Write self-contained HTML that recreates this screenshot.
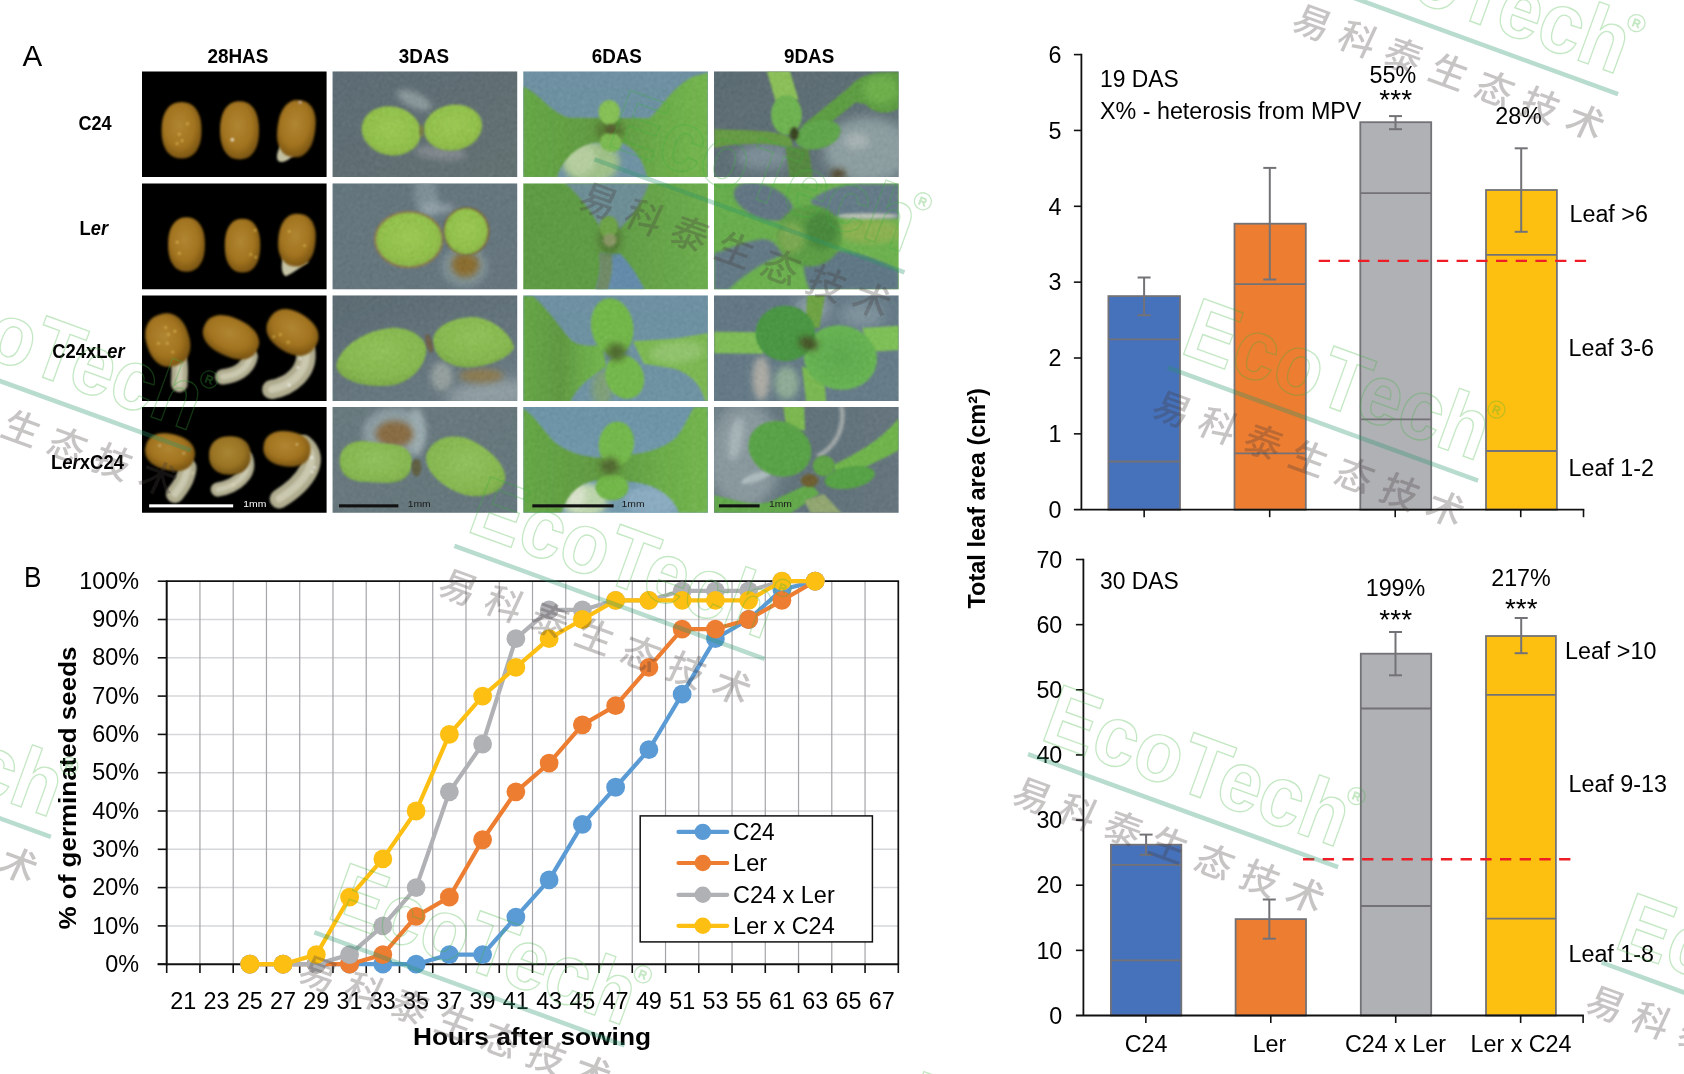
<!DOCTYPE html><html lang="en"><head><meta charset="utf-8"><title>Figure</title><style>html,body{margin:0;padding:0;background:#fff;overflow:hidden}body{width:1684px;height:1074px}</style></head><body><svg width="1684" height="1074" viewBox="0 0 1684 1074" style="display:block">
<defs>

<filter id="grain" color-interpolation-filters="sRGB" filterUnits="userSpaceOnUse" x="330" y="70" width="572" height="445"><feTurbulence type="fractalNoise" baseFrequency="0.6" numOctaves="3" seed="7"/><feColorMatrix type="matrix" values="0 1.5 0 0 -0.25  0 1.5 0 0 -0.25  0 1.5 0 0 -0.25  0 0 0 0 1"/><feGaussianBlur stdDeviation="0.8"/></filter>
<filter id="b8" filterUnits="userSpaceOnUse" x="-200" y="-200" width="2100" height="1400"><feGaussianBlur stdDeviation="10"/></filter>
<filter id="b15" filterUnits="userSpaceOnUse" x="-200" y="-200" width="2100" height="1400"><feGaussianBlur stdDeviation="14"/></filter>
<filter id="b30" filterUnits="userSpaceOnUse" x="-300" y="-300" width="2300" height="1600"><feGaussianBlur stdDeviation="28"/></filter>
<filter id="b60" filterUnits="userSpaceOnUse" x="-400" y="-400" width="2500" height="1800"><feGaussianBlur stdDeviation="55"/></filter>
<radialGradient id="seedG" cx="0.45" cy="0.42" r="0.62"><stop offset="0" stop-color="#b08632"/><stop offset="0.6" stop-color="#a27420"/><stop offset="1" stop-color="#74500f"/></radialGradient>
<radialGradient id="seedG2" cx="0.45" cy="0.42" r="0.62"><stop offset="0" stop-color="#a88632"/><stop offset="0.6" stop-color="#9a7424"/><stop offset="1" stop-color="#6d4e12"/></radialGradient>
<radialGradient id="cotG" cx="0.5" cy="0.45" r="0.6"><stop offset="0" stop-color="#a0d64c"/><stop offset="0.7" stop-color="#95cb42"/><stop offset="1" stop-color="#86b83c"/></radialGradient>
<radialGradient id="cotG3" cx="0.5" cy="0.4" r="0.65"><stop offset="0" stop-color="#93cd52"/><stop offset="0.7" stop-color="#87c146"/><stop offset="1" stop-color="#77ab3e"/></radialGradient>
<radialGradient id="cotG4" cx="0.5" cy="0.45" r="0.65"><stop offset="0" stop-color="#94cc58"/><stop offset="0.7" stop-color="#87c147"/><stop offset="1" stop-color="#78ad40"/></radialGradient>
<linearGradient id="bgS1" x1="0" y1="0" x2="1" y2="1"><stop offset="0" stop-color="#566873"/><stop offset="1" stop-color="#5f6f70"/></linearGradient>
<linearGradient id="bgS2" x1="0" y1="0" x2="1" y2="1"><stop offset="0" stop-color="#5f747d"/><stop offset="1" stop-color="#62747e"/></linearGradient>
<linearGradient id="bgS3" x1="0" y1="0" x2="0.6" y2="1"><stop offset="0" stop-color="#54666f"/><stop offset="1" stop-color="#677a84"/></linearGradient>
<linearGradient id="bgS4" x1="0" y1="0" x2="1" y2="1"><stop offset="0" stop-color="#65797f"/><stop offset="1" stop-color="#60747c"/></linearGradient>
<linearGradient id="bgB1" x1="0" y1="0" x2="0" y2="1"><stop offset="0" stop-color="#6a93a8"/><stop offset="1" stop-color="#6d97ab"/></linearGradient>
<linearGradient id="bgB2" x1="0" y1="0" x2="0" y2="1"><stop offset="0" stop-color="#6998ae"/><stop offset="1" stop-color="#73a0b6"/></linearGradient>
<linearGradient id="bgD1" x1="0" y1="0" x2="1" y2="1"><stop offset="0" stop-color="#54676f"/><stop offset="1" stop-color="#5e727a"/></linearGradient>
<linearGradient id="bgD2" x1="0" y1="0" x2="1" y2="1"><stop offset="0" stop-color="#5d7684"/><stop offset="1" stop-color="#627c8a"/></linearGradient>
<linearGradient id="bgD3" x1="0" y1="0" x2="1" y2="0"><stop offset="0" stop-color="#6a7e88"/><stop offset="0.5" stop-color="#5c707a"/><stop offset="1" stop-color="#62747e"/></linearGradient>
<linearGradient id="lfA" x1="0" y1="0" x2="1" y2="0"><stop offset="0" stop-color="#62ae3c"/><stop offset="0.45" stop-color="#5a9c36"/><stop offset="0.75" stop-color="#68b440"/><stop offset="1" stop-color="#72bf46"/></linearGradient>
<linearGradient id="lfB" x1="0" y1="0" x2="1" y2="0"><stop offset="0" stop-color="#58a03a"/><stop offset="0.45" stop-color="#5aa03a"/><stop offset="1" stop-color="#6ab645"/></linearGradient>
<linearGradient id="lfC" x1="0" y1="0" x2="1" y2="1"><stop offset="0" stop-color="#62b443"/><stop offset="1" stop-color="#6cbc48"/></linearGradient>
<radialGradient id="lfD" cx="0.5" cy="0.5" r="0.6"><stop offset="0" stop-color="#58b044"/><stop offset="1" stop-color="#66c04e"/></radialGradient>

<clipPath id="c00"><rect x="142.0" y="71.4" width="184.6" height="105.6"/></clipPath><clipPath id="c01"><rect x="332.6" y="71.4" width="184.6" height="105.6"/></clipPath><clipPath id="c02"><rect x="523.3" y="71.4" width="184.6" height="105.6"/></clipPath><clipPath id="c03"><rect x="714.0" y="71.4" width="184.6" height="105.6"/></clipPath><clipPath id="c10"><rect x="142.0" y="183.6" width="184.6" height="105.6"/></clipPath><clipPath id="c11"><rect x="332.6" y="183.6" width="184.6" height="105.6"/></clipPath><clipPath id="c12"><rect x="523.3" y="183.6" width="184.6" height="105.6"/></clipPath><clipPath id="c13"><rect x="714.0" y="183.6" width="184.6" height="105.6"/></clipPath><clipPath id="c20"><rect x="142.0" y="295.5" width="184.6" height="105.6"/></clipPath><clipPath id="c21"><rect x="332.6" y="295.5" width="184.6" height="105.6"/></clipPath><clipPath id="c22"><rect x="523.3" y="295.5" width="184.6" height="105.6"/></clipPath><clipPath id="c23"><rect x="714.0" y="295.5" width="184.6" height="105.6"/></clipPath><clipPath id="c30"><rect x="142.0" y="407.1" width="184.6" height="105.6"/></clipPath><clipPath id="c31"><rect x="332.6" y="407.1" width="184.6" height="105.6"/></clipPath><clipPath id="c32"><rect x="523.3" y="407.1" width="184.6" height="105.6"/></clipPath><clipPath id="c33"><rect x="714.0" y="407.1" width="184.6" height="105.6"/></clipPath><clipPath id="gcl"><rect x="332.6" y="71.4" width="184.6" height="105.6"/><rect x="523.3" y="71.4" width="184.6" height="105.6"/><rect x="714.0" y="71.4" width="184.6" height="105.6"/><rect x="332.6" y="183.6" width="184.6" height="105.6"/><rect x="523.3" y="183.6" width="184.6" height="105.6"/><rect x="714.0" y="183.6" width="184.6" height="105.6"/><rect x="332.6" y="295.5" width="184.6" height="105.6"/><rect x="523.3" y="295.5" width="184.6" height="105.6"/><rect x="714.0" y="295.5" width="184.6" height="105.6"/><rect x="332.6" y="407.1" width="184.6" height="105.6"/><rect x="523.3" y="407.1" width="184.6" height="105.6"/><rect x="714.0" y="407.1" width="184.6" height="105.6"/></clipPath>
</defs>
<rect width="1684" height="1074" fill="#fff"/>
<text x="22.60" y="65.60" font-family='"Liberation Sans", sans-serif' font-size="30" textLength="19.70" lengthAdjust="spacingAndGlyphs">A</text><text x="207.40" y="62.90" font-family='"Liberation Sans", sans-serif' font-size="20" font-weight="bold" textLength="61.00" lengthAdjust="spacingAndGlyphs">28HAS</text><text x="398.80" y="62.90" font-family='"Liberation Sans", sans-serif' font-size="20" font-weight="bold" textLength="50.30" lengthAdjust="spacingAndGlyphs">3DAS</text><text x="591.70" y="62.90" font-family='"Liberation Sans", sans-serif' font-size="20" font-weight="bold" textLength="50.20" lengthAdjust="spacingAndGlyphs">6DAS</text><text x="784.00" y="62.90" font-family='"Liberation Sans", sans-serif' font-size="20" font-weight="bold" textLength="50.20" lengthAdjust="spacingAndGlyphs">9DAS</text><text x="78.40" y="129.50" font-family='"Liberation Sans", sans-serif' font-size="20" font-weight="bold" textLength="33.20" lengthAdjust="spacingAndGlyphs">C24</text><text x="79.60" y="234.70" font-family='"Liberation Sans", sans-serif' font-size="20" font-weight="bold" textLength="28.40" lengthAdjust="spacingAndGlyphs">L<tspan font-style="italic">er</tspan></text><text x="52.30" y="357.90" font-family='"Liberation Sans", sans-serif' font-size="20" font-weight="bold" textLength="72.40" lengthAdjust="spacingAndGlyphs">C24xL<tspan font-style="italic">er</tspan></text><text x="51.00" y="468.80" font-family='"Liberation Sans", sans-serif' font-size="20" font-weight="bold" textLength="73.00" lengthAdjust="spacingAndGlyphs">L<tspan font-style="italic">er</tspan>xC24</text>
<g clip-path="url(#c00)"><g transform="translate(142,71) scale(0.10985)"><rect x="-20" y="-20" width="1740" height="1020" fill="#000"/><path d="M542,540 L540,591 L534,633 L525,669 L511,702 L495,730 L475,754 L452,772 L426,786 L396,794 L360,797 L324,794 L294,786 L268,772 L245,754 L225,730 L209,702 L195,669 L186,633 L180,591 L178,540 L180,489 L186,447 L195,411 L209,378 L225,350 L245,326 L268,308 L294,294 L324,286 L360,283 L396,286 L426,294 L452,308 L475,326 L495,350 L511,378 L525,411 L534,447 L540,489Z" fill="url(#seedG)" filter="url(#b8)"/><path d="M1066,540 L1064,593 L1058,635 L1049,673 L1036,707 L1020,736 L1000,760 L978,780 L952,794 L923,802 L888,805 L853,802 L824,794 L798,780 L776,760 L756,736 L740,707 L727,673 L718,635 L712,593 L710,540 L712,487 L718,445 L727,407 L740,373 L756,344 L776,320 L798,300 L824,286 L853,278 L888,275 L923,278 L952,286 L978,300 L1000,320 L1020,344 L1036,373 L1049,407 L1058,445 L1064,487Z" fill="url(#seedG)" filter="url(#b8)"/><path d="M1300,620 C1240,700 1210,780 1240,820 C1290,850 1360,800 1420,720 Z" fill="#c2c0a0" filter="url(#b8)"/><path d="M1577,525 L1575,577 L1570,619 L1561,657 L1548,690 L1532,719 L1513,743 L1492,762 L1467,776 L1439,784 L1405,787 L1371,784 L1343,776 L1318,762 L1297,743 L1278,719 L1262,690 L1249,657 L1240,619 L1235,577 L1233,525 L1235,473 L1240,431 L1249,393 L1262,360 L1278,331 L1297,307 L1318,288 L1343,274 L1371,266 L1405,263 L1439,266 L1467,274 L1492,288 L1513,307 L1532,331 L1548,360 L1561,393 L1570,431 L1575,473Z" fill="url(#seedG)" transform="rotate(8 1405 525)" filter="url(#b8)"/><circle cx="415" cy="480" r="11" fill="#e8c860" opacity="0.8" filter="url(#b8)"/><circle cx="340" cy="575" r="11" fill="#e8c860" opacity="0.8" filter="url(#b8)"/><circle cx="365" cy="635" r="11" fill="#e8c860" opacity="0.8" filter="url(#b8)"/><circle cx="320" cy="660" r="11" fill="#e8c860" opacity="0.8" filter="url(#b8)"/><circle cx="822" cy="625" r="16" fill="#fff" opacity="0.8" filter="url(#b8)"/><circle cx="1440" cy="285" r="12" fill="#d8d0f0" opacity="0.8" filter="url(#b8)"/></g></g><g clip-path="url(#c01)"><g transform="translate(333,71) scale(0.10985)"><rect x="-20" y="-20" width="1740" height="1020" fill="url(#bgS1)"/><ellipse cx="740" cy="265" rx="170" ry="70" fill="#b8c8c8" transform="rotate(25 740 265)" filter="url(#b30)" opacity="0.55"/><ellipse cx="980" cy="745" rx="240" ry="60" fill="#a8a8b0" transform="rotate(5 980 745)" filter="url(#b30)" opacity="0.5"/><ellipse cx="530" cy="545" rx="272" ry="222" fill="url(#cotG)" transform="rotate(12 530 545)" filter="url(#b8)"/><ellipse cx="1092" cy="515" rx="268" ry="208" fill="url(#cotG)" transform="rotate(-10 1092 515)" filter="url(#b8)"/><ellipse cx="805" cy="545" rx="18" ry="60" fill="#7a7a30" filter="url(#b8)"/></g></g><g clip-path="url(#c02)"><g transform="translate(523,71) scale(0.10985)"><rect x="-20" y="-20" width="1740" height="1020" fill="url(#bgB1)"/><ellipse cx="620" cy="830" rx="260" ry="190" fill="#a6cc8c" filter="url(#b30)"/><ellipse cx="520" cy="800" rx="140" ry="150" fill="#c0dca6" filter="url(#b30)"/><path d="M0,140 C150,200 250,380 420,425 L1150,430 C1250,350 1350,150 1550,50 L1684,15 L1684,974 L1130,974 C1100,800 1000,690 900,655 L650,650 C500,680 350,800 310,974 L0,974 Z" fill="url(#lfA)" filter="url(#b8)"/><ellipse cx="790" cy="540" rx="130" ry="100" fill="#4f7a28" filter="url(#b30)"/><ellipse cx="785" cy="375" rx="98" ry="112" fill="#86cb4e" filter="url(#b8)"/><ellipse cx="800" cy="650" rx="100" ry="88" fill="#7cc448" transform="rotate(15 800 650)" filter="url(#b8)"/><ellipse cx="800" cy="530" rx="50" ry="40" fill="#4f5a22" filter="url(#b15)"/></g></g><g clip-path="url(#c03)"><g transform="translate(714,71) scale(0.10985)"><rect x="-20" y="-20" width="1740" height="1020" fill="url(#bgD1)"/><ellipse cx="1400" cy="720" rx="400" ry="300" fill="#90a4a7" filter="url(#b60)"/><ellipse cx="1300" cy="640" rx="110" ry="70" fill="#aebcbc" filter="url(#b30)"/><ellipse cx="450" cy="780" rx="260" ry="120" fill="#7d929c" filter="url(#b60)"/><ellipse cx="1130" cy="940" rx="70" ry="45" fill="#4a3a18" filter="url(#b30)"/><path d="M480,0 L690,0 L770,260 L560,270 Z" fill="#8ecb52" filter="url(#b8)"/><path d="M800,500 L1240,140 C1320,50 1420,10 1684,10 L1684,340 C1600,400 1450,390 1380,300 L1290,285 L1000,520 Z" fill="#58a238" filter="url(#b8)"/><ellipse cx="1520" cy="170" rx="160" ry="130" fill="#6ab843" filter="url(#b30)"/><path d="M0,530 C250,540 500,530 700,600 L720,700 C500,650 250,650 0,700 Z" fill="#629f38" filter="url(#b8)"/><path d="M650,690 L860,700 L900,974 L690,974 Z" fill="#4f8a34" filter="url(#b8)"/><ellipse cx="660" cy="400" rx="140" ry="182" fill="#6cbc48" filter="url(#b8)"/><ellipse cx="945" cy="580" rx="212" ry="128" fill="#5aac42" transform="rotate(-15 945 580)" filter="url(#b8)"/><ellipse cx="730" cy="570" rx="40" ry="60" fill="#2a3810" filter="url(#b15)"/></g></g><g clip-path="url(#c10)"><g transform="translate(142,183) scale(0.10985)"><rect x="-20" y="-20" width="1740" height="1020" fill="#000"/><path d="M573,560 L571,609 L566,649 L557,685 L545,716 L529,743 L511,766 L490,784 L466,797 L438,805 L405,808 L372,805 L344,797 L320,784 L299,766 L281,743 L265,716 L253,685 L244,649 L239,609 L237,560 L239,511 L244,471 L253,435 L265,404 L281,377 L299,354 L320,336 L344,323 L372,315 L405,312 L438,315 L466,323 L490,336 L511,354 L529,377 L545,404 L557,435 L566,471 L571,511Z" fill="url(#seedG)" filter="url(#b8)"/><path d="M1077,570 L1075,619 L1070,658 L1062,693 L1050,724 L1035,751 L1017,774 L997,792 L973,805 L947,812 L915,815 L883,812 L857,805 L833,792 L813,774 L795,751 L780,724 L768,693 L760,658 L755,619 L753,570 L755,521 L760,482 L768,447 L780,416 L795,389 L813,366 L833,348 L857,335 L883,328 L915,325 L947,328 L973,335 L997,348 L1017,366 L1035,389 L1050,416 L1062,447 L1070,482 L1075,521Z" fill="url(#seedG)" filter="url(#b8)"/><path d="M1290,640 C1260,760 1270,830 1310,850 C1380,820 1450,760 1520,720 Z" fill="#c6c4a6" filter="url(#b8)"/><path d="M1580,520 L1578,568 L1573,606 L1564,641 L1551,671 L1536,698 L1517,720 L1496,737 L1471,750 L1444,757 L1410,760 L1376,757 L1349,750 L1324,737 L1303,720 L1284,698 L1269,671 L1256,641 L1247,606 L1242,568 L1240,520 L1242,472 L1247,434 L1256,399 L1269,369 L1284,342 L1303,320 L1324,303 L1349,290 L1376,283 L1410,280 L1444,283 L1471,290 L1496,303 L1517,320 L1536,342 L1551,369 L1564,399 L1573,434 L1578,472Z" fill="url(#seedG)" transform="rotate(5 1410 520)" filter="url(#b8)"/><circle cx="320" cy="540" r="11" fill="#e8c860" opacity="0.8" filter="url(#b8)"/><circle cx="340" cy="640" r="11" fill="#e8c860" opacity="0.8" filter="url(#b8)"/><circle cx="1030" cy="430" r="11" fill="#e8c860" opacity="0.8" filter="url(#b8)"/><circle cx="990" cy="650" r="11" fill="#e8c860" opacity="0.8" filter="url(#b8)"/><circle cx="1035" cy="675" r="11" fill="#e8c860" opacity="0.8" filter="url(#b8)"/><circle cx="1340" cy="440" r="11" fill="#e8c860" opacity="0.8" filter="url(#b8)"/><circle cx="1480" cy="570" r="11" fill="#e8c860" opacity="0.8" filter="url(#b8)"/></g></g><g clip-path="url(#c11)"><g transform="translate(333,183) scale(0.10985)"><rect x="-20" y="-20" width="1740" height="1020" fill="url(#bgS2)"/><ellipse cx="850" cy="130" rx="110" ry="200" fill="#8aa0a6" transform="rotate(-10 850 130)" filter="url(#b30)" opacity="0.7"/><ellipse cx="950" cy="230" rx="160" ry="50" fill="#a8b8c0" filter="url(#b30)" opacity="0.6"/><ellipse cx="1200" cy="760" rx="210" ry="190" fill="#7d9298" filter="url(#b30)"/><ellipse cx="1205" cy="745" rx="125" ry="110" fill="#8c6a22" filter="url(#b30)"/><ellipse cx="690" cy="515" rx="318" ry="262" fill="#8a7a48" filter="url(#b8)"/><ellipse cx="690" cy="515" rx="298" ry="244" fill="url(#cotG)" filter="url(#b8)"/><ellipse cx="1215" cy="440" rx="212" ry="222" fill="#7a6a38" filter="url(#b8)"/><ellipse cx="1212" cy="440" rx="196" ry="208" fill="url(#cotG)" filter="url(#b8)"/></g></g><g clip-path="url(#c12)"><g transform="translate(523,183) scale(0.10985)"><rect x="-20" y="-20" width="1740" height="1020" fill="url(#lfB)"/><path d="M380,0 L1150,0 C1080,200 950,350 880,420 L700,400 C620,250 480,80 380,0 Z" fill="#6a9199" filter="url(#b8)"/><path d="M700,640 L880,640 C950,700 1050,850 1110,974 L660,974 C700,850 720,750 700,640 Z" fill="#5f8eb2" filter="url(#b8)"/><path d="M690,640 L800,640 C830,760 800,880 770,974 L660,974 C700,850 710,750 690,640 Z" fill="#6d8c62" filter="url(#b8)"/><ellipse cx="790" cy="510" rx="110" ry="140" fill="#4c7a2c" filter="url(#b30)"/><ellipse cx="780" cy="400" rx="85" ry="100" fill="#6aa83c" filter="url(#b8)"/><ellipse cx="790" cy="520" rx="60" ry="60" fill="#8a9a60" filter="url(#b15)"/></g></g><g clip-path="url(#c13)"><g transform="translate(714,183) scale(0.10985)"><rect x="-20" y="-20" width="1740" height="1020" fill="url(#lfC)"/><ellipse cx="1420" cy="440" rx="300" ry="110" fill="#8eba48" filter="url(#b30)"/><ellipse cx="450" cy="170" rx="285" ry="150" fill="#5c7484" transform="rotate(22 450 170)" filter="url(#b15)"/><path d="M880,160 C1000,60 1150,20 1300,10 L1684,10 L1684,320 L1100,310 C1000,290 900,240 880,160 Z" fill="#607a8a" filter="url(#b15)"/><ellipse cx="1400" cy="300" rx="280" ry="25" fill="#c8d0c0" filter="url(#b15)"/><path d="M0,640 C100,620 250,530 450,510 C560,520 600,600 640,650 C500,700 300,800 130,974 L0,974 Z" fill="#5d7886" filter="url(#b15)"/><path d="M820,700 C900,650 1000,620 1150,620 C1350,640 1550,720 1684,800 L1684,974 L870,974 C830,880 810,780 820,700 Z" fill="#5a7686" filter="url(#b15)"/><ellipse cx="870" cy="480" rx="295" ry="280" fill="#56a23a" filter="url(#b15)"/><ellipse cx="980" cy="430" rx="150" ry="170" fill="#3f8a30" filter="url(#b30)"/><ellipse cx="700" cy="500" rx="120" ry="140" fill="#7ab048" filter="url(#b30)"/></g></g><g clip-path="url(#c20)"><g transform="translate(142,295) scale(0.10985)"><rect x="-20" y="-20" width="1740" height="1020" fill="#000"/><path d="M335,590 C355,700 335,770 340,810" fill="none" stroke="#aeab8e" stroke-width="150" stroke-linecap="round" stroke-linejoin="round" filter="url(#b8)"/><path d="M335,590 C355,700 335,770 340,810" fill="none" stroke="#cbc9b0" stroke-width="60.0" stroke-linecap="round" stroke-linejoin="round" filter="url(#b15)"/><path d="M430,410 L428,459 L422,498 L411,533 L397,564 L379,591 L358,614 L333,632 L305,645 L274,652 L235,655 L196,652 L165,645 L137,632 L112,614 L91,591 L73,564 L59,533 L48,498 L42,459 L40,410 L42,361 L48,322 L59,287 L73,256 L91,229 L112,206 L137,188 L165,175 L196,168 L235,165 L274,168 L305,175 L333,188 L358,206 L379,229 L397,256 L411,287 L422,322 L428,361Z" fill="url(#seedG)" transform="rotate(-18 235 410)" filter="url(#b8)"/><path d="M985,560 C960,680 850,730 735,745" fill="none" stroke="#aeab8e" stroke-width="140" stroke-linecap="round" stroke-linejoin="round" filter="url(#b8)"/><path d="M985,560 C960,680 850,730 735,745" fill="none" stroke="#cbc9b0" stroke-width="56.0" stroke-linecap="round" stroke-linejoin="round" filter="url(#b15)"/><path d="M1075,385 L1072,420 L1064,448 L1050,473 L1030,495 L1006,514 L977,531 L943,543 L905,553 L863,558 L810,560 L757,558 L715,553 L677,543 L643,531 L614,514 L590,495 L570,473 L556,448 L548,420 L545,385 L548,350 L556,322 L570,297 L590,275 L614,256 L643,239 L677,227 L715,217 L757,212 L810,210 L863,212 L905,217 L943,227 L977,239 L1006,256 L1030,275 L1050,297 L1064,322 L1072,350Z" fill="url(#seedG)" transform="rotate(25 810 385)" filter="url(#b8)"/><path d="M1490,500 C1520,700 1350,830 1180,860" fill="none" stroke="#aeab8e" stroke-width="175" stroke-linecap="round" stroke-linejoin="round" filter="url(#b8)"/><path d="M1490,500 C1520,700 1350,830 1180,860" fill="none" stroke="#cbc9b0" stroke-width="70.0" stroke-linecap="round" stroke-linejoin="round" filter="url(#b15)"/><path d="M1615,340 L1612,377 L1605,407 L1592,433 L1574,457 L1551,477 L1524,494 L1493,507 L1458,517 L1419,523 L1370,525 L1321,523 L1282,517 L1247,507 L1216,494 L1189,477 L1166,457 L1148,433 L1135,407 L1128,377 L1125,340 L1128,303 L1135,273 L1148,247 L1166,223 L1189,203 L1216,186 L1247,173 L1282,163 L1321,157 L1370,155 L1419,157 L1458,163 L1493,173 L1524,186 L1551,203 L1574,223 L1592,247 L1605,273 L1612,303Z" fill="url(#seedG)" transform="rotate(32 1370 340)" filter="url(#b8)"/><circle cx="215" cy="295" r="11" fill="#e8c860" opacity="0.8" filter="url(#b8)"/><circle cx="240" cy="360" r="11" fill="#e8c860" opacity="0.8" filter="url(#b8)"/><circle cx="150" cy="440" r="11" fill="#e8c860" opacity="0.8" filter="url(#b8)"/><circle cx="230" cy="440" r="11" fill="#e8c860" opacity="0.8" filter="url(#b8)"/><circle cx="280" cy="520" r="11" fill="#e8c860" opacity="0.8" filter="url(#b8)"/><circle cx="300" cy="330" r="11" fill="#e8c860" opacity="0.8" filter="url(#b8)"/><circle cx="1200" cy="380" r="11" fill="#e8c860" opacity="0.8" filter="url(#b8)"/><circle cx="1260" cy="360" r="11" fill="#e8c860" opacity="0.8" filter="url(#b8)"/><circle cx="1330" cy="430" r="11" fill="#e8c860" opacity="0.8" filter="url(#b8)"/><circle cx="1440" cy="580" r="12" fill="#fff" opacity="0.8" filter="url(#b8)"/><circle cx="1420" cy="660" r="12" fill="#fff" opacity="0.8" filter="url(#b8)"/><circle cx="1340" cy="820" r="12" fill="#fff" opacity="0.8" filter="url(#b8)"/></g></g><g clip-path="url(#c21)"><g transform="translate(333,295) scale(0.10985)"><rect x="-20" y="-20" width="1740" height="1020" fill="url(#bgS3)"/><ellipse cx="1450" cy="900" rx="420" ry="130" fill="#93a3a8" transform="rotate(-5 1450 900)" filter="url(#b60)"/><ellipse cx="990" cy="740" rx="100" ry="130" fill="#98a5a3" filter="url(#b30)"/><ellipse cx="1350" cy="735" rx="200" ry="65" fill="#8e7a48" filter="url(#b30)"/><path d="M30,650 C40,500 250,330 520,300 C700,290 820,380 850,470 C860,600 760,760 560,820 C350,850 60,800 30,650 Z" fill="url(#cotG3)" filter="url(#b8)"/><path d="M910,400 C930,280 1100,200 1280,200 C1450,210 1620,350 1650,480 C1600,580 1400,660 1200,660 C1050,650 900,560 910,400 Z" fill="url(#cotG3)" filter="url(#b8)"/><ellipse cx="875" cy="440" rx="30" ry="90" fill="#6a5a40" transform="rotate(-15 875 440)" filter="url(#b8)"/></g></g><g clip-path="url(#c22)"><g transform="translate(523,295) scale(0.10985)"><rect x="-20" y="-20" width="1740" height="1020" fill="url(#bgB1)"/><ellipse cx="720" cy="850" rx="95" ry="170" fill="#7fa578" filter="url(#b30)"/><path d="M0,10 L90,10 C250,150 350,330 450,420 C550,480 650,460 720,450 L760,650 C600,750 480,850 430,974 L0,974 Z" fill="url(#lfA)" filter="url(#b8)"/><path d="M1000,420 L1400,395 L1684,345 L1684,974 L1660,974 C1620,800 1500,700 1350,665 L1100,625 Z" fill="#7cc24c" filter="url(#b8)"/><ellipse cx="1400" cy="520" rx="250" ry="100" fill="#a5d880" transform="rotate(-5 1400 520)" filter="url(#b30)" opacity="0.6"/><ellipse cx="812" cy="290" rx="192" ry="262" fill="#70c040" transform="rotate(-10 812 290)" filter="url(#b8)"/><ellipse cx="925" cy="745" rx="172" ry="205" fill="#72c243" transform="rotate(-25 925 745)" filter="url(#b8)"/><ellipse cx="850" cy="520" rx="95" ry="80" fill="#4a6a22" filter="url(#b30)"/></g></g><g clip-path="url(#c23)"><g transform="translate(714,295) scale(0.10985)"><rect x="-20" y="-20" width="1740" height="1020" fill="url(#bgD2)"/><ellipse cx="900" cy="120" rx="160" ry="120" fill="#8da2ac" filter="url(#b60)"/><ellipse cx="1350" cy="180" rx="200" ry="120" fill="#7f96a2" filter="url(#b60)"/><ellipse cx="430" cy="760" rx="80" ry="200" fill="#b4b2aa" filter="url(#b30)"/><ellipse cx="660" cy="800" rx="110" ry="150" fill="#92b29a" filter="url(#b30)"/><path d="M0,335 L450,340 L450,535 L0,530 Z" fill="#7fc850" filter="url(#b8)"/><path d="M1350,300 L1684,280 L1684,500 L1400,520 Z" fill="#7ecb50" filter="url(#b8)"/><path d="M850,0 L1010,0 L960,300 L830,300 Z" fill="#6aa838" filter="url(#b8)"/><path d="M800,650 L1000,700 L1020,974 L840,974 Z" fill="#7ac24a" filter="url(#b8)"/><ellipse cx="1150" cy="570" rx="335" ry="292" fill="url(#lfD)" transform="rotate(10 1150 570)" filter="url(#b8)"/><ellipse cx="650" cy="350" rx="272" ry="252" fill="#3f9a38" filter="url(#b8)"/><ellipse cx="860" cy="440" rx="90" ry="60" fill="#3e4a18" transform="rotate(20 860 440)" filter="url(#b30)"/></g></g><g clip-path="url(#c30)"><g transform="translate(142,406) scale(0.10985)"><rect x="-20" y="-20" width="1740" height="1020" fill="#000"/><path d="M415,560 C400,680 340,750 300,800" fill="none" stroke="#aeab8e" stroke-width="165" stroke-linecap="round" stroke-linejoin="round" filter="url(#b8)"/><path d="M415,560 C400,680 340,750 300,800" fill="none" stroke="#cbc9b0" stroke-width="66.0" stroke-linecap="round" stroke-linejoin="round" filter="url(#b15)"/><path d="M483,420 L481,453 L473,479 L461,503 L445,524 L424,542 L399,557 L370,569 L337,578 L300,583 L255,585 L210,583 L173,578 L140,569 L111,557 L86,542 L65,524 L49,503 L37,479 L29,453 L27,420 L29,387 L37,361 L49,337 L65,316 L86,298 L111,283 L140,271 L173,262 L210,257 L255,255 L300,257 L337,262 L370,271 L399,283 L424,298 L445,316 L461,337 L473,361 L481,387Z" fill="url(#seedG)" transform="rotate(14 255 420)" filter="url(#b8)"/><path d="M945,470 C1000,620 850,735 690,760" fill="none" stroke="#aeab8e" stroke-width="130" stroke-linecap="round" stroke-linejoin="round" filter="url(#b8)"/><path d="M945,470 C1000,620 850,735 690,760" fill="none" stroke="#cbc9b0" stroke-width="52.0" stroke-linecap="round" stroke-linejoin="round" filter="url(#b15)"/><path d="M990,450 L988,485 L982,513 L972,538 L958,560 L941,579 L920,596 L896,608 L868,618 L838,623 L800,625 L762,623 L732,618 L704,608 L680,596 L659,579 L642,560 L628,538 L618,513 L612,485 L610,450 L612,415 L618,387 L628,362 L642,340 L659,321 L680,304 L704,292 L732,282 L762,277 L800,275 L838,277 L868,282 L896,292 L920,304 L941,321 L958,340 L972,362 L982,387 L988,415Z" fill="url(#seedG2)" filter="url(#b8)"/><path d="M1470,350 C1630,480 1500,690 1250,845" fill="none" stroke="#aeab8e" stroke-width="175" stroke-linecap="round" stroke-linejoin="round" filter="url(#b8)"/><path d="M1470,350 C1630,480 1500,690 1250,845" fill="none" stroke="#cbc9b0" stroke-width="70.0" stroke-linecap="round" stroke-linejoin="round" filter="url(#b15)"/><path d="M1535,390 L1533,422 L1526,448 L1514,471 L1499,491 L1479,508 L1455,523 L1428,535 L1397,543 L1363,548 L1320,550 L1277,548 L1243,543 L1212,535 L1185,523 L1161,508 L1141,491 L1126,471 L1114,448 L1107,422 L1105,390 L1107,358 L1114,332 L1126,309 L1141,289 L1161,272 L1185,257 L1212,245 L1243,237 L1277,232 L1320,230 L1363,232 L1397,237 L1428,245 L1455,257 L1479,272 L1499,289 L1514,309 L1526,332 L1533,358Z" fill="url(#seedG)" transform="rotate(8 1320 390)" filter="url(#b8)"/><circle cx="160" cy="360" r="10" fill="#f0e8c0" opacity="0.8" filter="url(#b8)"/><circle cx="380" cy="430" r="10" fill="#f0e8c0" opacity="0.8" filter="url(#b8)"/><circle cx="460" cy="610" r="10" fill="#f0e8c0" opacity="0.8" filter="url(#b8)"/><circle cx="1410" cy="350" r="10" fill="#f0e8c0" opacity="0.8" filter="url(#b8)"/><circle cx="830" cy="720" r="10" fill="#f0e8c0" opacity="0.8" filter="url(#b8)"/><circle cx="1570" cy="560" r="12" fill="#fff" opacity="0.8" filter="url(#b8)"/><circle cx="1550" cy="600" r="12" fill="#fff" opacity="0.8" filter="url(#b8)"/><circle cx="1545" cy="470" r="12" fill="#fff" opacity="0.8" filter="url(#b8)"/></g></g><g clip-path="url(#c31)"><g transform="translate(333,406) scale(0.10985)"><rect x="-20" y="-20" width="1740" height="1020" fill="url(#bgS4)"/><ellipse cx="560" cy="250" rx="290" ry="235" fill="#8ea2a8" filter="url(#b30)"/><ellipse cx="760" cy="230" rx="70" ry="220" fill="#a0b4b8" filter="url(#b30)"/><ellipse cx="560" cy="255" rx="170" ry="120" fill="#8a6838" filter="url(#b30)"/><path d="M60,500 C60,380 160,310 300,320 L560,350 C680,370 730,440 720,540 C700,650 620,700 500,700 L250,690 C130,670 60,610 60,500 Z" fill="url(#cotG4)" filter="url(#b8)"/><path d="M850,440 C900,300 1050,250 1200,290 C1400,360 1560,520 1570,650 C1560,780 1400,830 1250,820 C1100,790 960,700 890,600 C850,540 840,490 850,440 Z" fill="url(#cotG4)" filter="url(#b8)"/><ellipse cx="760" cy="560" rx="45" ry="80" fill="#5a5a38" filter="url(#b8)"/></g></g><g clip-path="url(#c32)"><g transform="translate(523,406) scale(0.10985)"><rect x="-20" y="-20" width="1740" height="1020" fill="url(#bgB2)"/><ellipse cx="1180" cy="860" rx="260" ry="140" fill="#8db4cc" filter="url(#b30)"/><ellipse cx="560" cy="860" rx="210" ry="160" fill="#c8e4b4" filter="url(#b30)"/><ellipse cx="480" cy="820" rx="90" ry="120" fill="#e8f4d8" filter="url(#b30)"/><path d="M0,20 C120,100 200,250 300,340 C420,430 550,460 680,470 L1000,440 C1150,420 1300,380 1400,280 C1480,180 1520,60 1560,10 L1684,10 L1684,974 L1420,974 C1380,850 1250,720 1000,690 L650,680 C520,700 400,800 350,974 L0,974 Z" fill="url(#lfA)" filter="url(#b8)"/><ellipse cx="850" cy="345" rx="160" ry="205" fill="#72c242" transform="rotate(8 850 345)" filter="url(#b8)"/><ellipse cx="810" cy="740" rx="150" ry="118" fill="#70c040" filter="url(#b8)"/><ellipse cx="790" cy="545" rx="85" ry="75" fill="#4a6420" filter="url(#b30)"/></g></g><g clip-path="url(#c33)"><g transform="translate(714,406) scale(0.10985)"><rect x="-20" y="-20" width="1740" height="1020" fill="url(#bgD3)"/><ellipse cx="280" cy="450" rx="330" ry="480" fill="#8b9da3" filter="url(#b60)"/><ellipse cx="200" cy="300" rx="60" ry="200" fill="#b0c0c4" transform="rotate(10 200 300)" filter="url(#b30)"/><ellipse cx="380" cy="650" rx="140" ry="40" fill="#b4c4c8" transform="rotate(-20 380 650)" filter="url(#b15)"/><path d="M1160,0 C1200,200 1100,380 940,460" fill="none" stroke="#a9b1b1" stroke-width="40" filter="url(#b15)"/><path d="M630,0 L820,0 L830,220 L660,220 Z" fill="#7cc24a" filter="url(#b8)"/><path d="M1684,110 C1500,330 1300,430 1080,540 L1150,680 C1350,560 1550,480 1684,400 Z" fill="#6dbd43" filter="url(#b8)"/><path d="M880,700 L600,830 C400,950 200,850 0,815 L0,974 L700,974 L960,800 Z" fill="#5db142" filter="url(#b8)"/><path d="M820,860 L1000,800 L1160,974 L880,974 Z" fill="#94ad6e" filter="url(#b8)"/><ellipse cx="1235" cy="650" rx="232" ry="100" fill="#4fa83a" transform="rotate(-10 1235 650)" filter="url(#b8)"/><ellipse cx="1000" cy="545" rx="100" ry="95" fill="#5aa83c" filter="url(#b8)"/><ellipse cx="600" cy="390" rx="292" ry="248" fill="#52a83e" transform="rotate(22 600 390)" filter="url(#b8)"/><ellipse cx="870" cy="680" rx="80" ry="60" fill="#6a5820" filter="url(#b15)"/></g></g><g clip-path="url(#gcl)"><rect x="330" y="70" width="572" height="445" filter="url(#grain)" opacity="0.16" style="mix-blend-mode:overlay"/></g><g transform="translate(142,406) scale(0.10985)"><rect x="65" y="895" width="765" height="28" fill="#fff"/><text x="922" y="921" font-family='"Liberation Sans", sans-serif' font-size="88" fill="#fff" textLength="210" lengthAdjust="spacingAndGlyphs">1mm</text></g><g transform="translate(333,406) scale(0.10985)"><rect x="55" y="895" width="540" height="28" fill="#111"/><text x="680" y="921" font-family='"Liberation Sans", sans-serif' font-size="88" fill="#1a1a1a" textLength="210" lengthAdjust="spacingAndGlyphs">1mm</text></g><g transform="translate(523,406) scale(0.10985)"><rect x="85" y="895" width="740" height="28" fill="#111"/><text x="897" y="921" font-family='"Liberation Sans", sans-serif' font-size="88" fill="#1a1a1a" textLength="210" lengthAdjust="spacingAndGlyphs">1mm</text></g><g transform="translate(714,406) scale(0.10985)"><rect x="45" y="895" width="370" height="28" fill="#111"/><text x="500" y="921" font-family='"Liberation Sans", sans-serif' font-size="88" fill="#1a1a1a" textLength="210" lengthAdjust="spacingAndGlyphs">1mm</text></g>
<line x1="166.70" y1="925.90" x2="898.30" y2="925.90" stroke="#d6d7da" stroke-width="1.5" /><line x1="166.70" y1="887.60" x2="898.30" y2="887.60" stroke="#d6d7da" stroke-width="1.5" /><line x1="166.70" y1="849.30" x2="898.30" y2="849.30" stroke="#d6d7da" stroke-width="1.5" /><line x1="166.70" y1="811.00" x2="898.30" y2="811.00" stroke="#d6d7da" stroke-width="1.5" /><line x1="166.70" y1="772.70" x2="898.30" y2="772.70" stroke="#d6d7da" stroke-width="1.5" /><line x1="166.70" y1="734.40" x2="898.30" y2="734.40" stroke="#d6d7da" stroke-width="1.5" /><line x1="166.70" y1="696.10" x2="898.30" y2="696.10" stroke="#d6d7da" stroke-width="1.5" /><line x1="166.70" y1="657.80" x2="898.30" y2="657.80" stroke="#d6d7da" stroke-width="1.5" /><line x1="166.70" y1="619.50" x2="898.30" y2="619.50" stroke="#d6d7da" stroke-width="1.5" /><line x1="199.95" y1="581.20" x2="199.95" y2="964.20" stroke="#a5a5aa" stroke-width="1.2" /><line x1="233.21" y1="581.20" x2="233.21" y2="964.20" stroke="#a5a5aa" stroke-width="1.2" /><line x1="266.46" y1="581.20" x2="266.46" y2="964.20" stroke="#a5a5aa" stroke-width="1.2" /><line x1="299.72" y1="581.20" x2="299.72" y2="964.20" stroke="#a5a5aa" stroke-width="1.2" /><line x1="332.97" y1="581.20" x2="332.97" y2="964.20" stroke="#a5a5aa" stroke-width="1.2" /><line x1="366.23" y1="581.20" x2="366.23" y2="964.20" stroke="#a5a5aa" stroke-width="1.2" /><line x1="399.48" y1="581.20" x2="399.48" y2="964.20" stroke="#a5a5aa" stroke-width="1.2" /><line x1="432.74" y1="581.20" x2="432.74" y2="964.20" stroke="#a5a5aa" stroke-width="1.2" /><line x1="465.99" y1="581.20" x2="465.99" y2="964.20" stroke="#a5a5aa" stroke-width="1.2" /><line x1="499.25" y1="581.20" x2="499.25" y2="964.20" stroke="#a5a5aa" stroke-width="1.2" /><line x1="532.50" y1="581.20" x2="532.50" y2="964.20" stroke="#a5a5aa" stroke-width="1.2" /><line x1="565.75" y1="581.20" x2="565.75" y2="964.20" stroke="#a5a5aa" stroke-width="1.2" /><line x1="599.01" y1="581.20" x2="599.01" y2="964.20" stroke="#a5a5aa" stroke-width="1.2" /><line x1="632.26" y1="581.20" x2="632.26" y2="964.20" stroke="#a5a5aa" stroke-width="1.2" /><line x1="665.52" y1="581.20" x2="665.52" y2="964.20" stroke="#a5a5aa" stroke-width="1.2" /><line x1="698.77" y1="581.20" x2="698.77" y2="964.20" stroke="#a5a5aa" stroke-width="1.2" /><line x1="732.03" y1="581.20" x2="732.03" y2="964.20" stroke="#a5a5aa" stroke-width="1.2" /><line x1="765.28" y1="581.20" x2="765.28" y2="964.20" stroke="#a5a5aa" stroke-width="1.2" /><line x1="798.54" y1="581.20" x2="798.54" y2="964.20" stroke="#a5a5aa" stroke-width="1.2" /><line x1="831.79" y1="581.20" x2="831.79" y2="964.20" stroke="#a5a5aa" stroke-width="1.2" /><line x1="865.05" y1="581.20" x2="865.05" y2="964.20" stroke="#a5a5aa" stroke-width="1.2" /><line x1="166.20" y1="581.20" x2="899.10" y2="581.20" stroke="#111" stroke-width="1.7" /><line x1="898.30" y1="581.20" x2="898.30" y2="964.20" stroke="#111" stroke-width="1.7" /><line x1="166.70" y1="580.40" x2="166.70" y2="965.20" stroke="#111" stroke-width="2" /><line x1="157.70" y1="964.20" x2="899.10" y2="964.20" stroke="#111" stroke-width="2" /><line x1="157.70" y1="964.20" x2="166.70" y2="964.20" stroke="#111" stroke-width="1.6" /><text x="139.10" y="971.80" font-family='"Liberation Sans", sans-serif' font-size="23.4" text-anchor="end">0%</text><line x1="157.70" y1="925.90" x2="166.70" y2="925.90" stroke="#111" stroke-width="1.6" /><text x="139.10" y="933.50" font-family='"Liberation Sans", sans-serif' font-size="23.4" text-anchor="end">10%</text><line x1="157.70" y1="887.60" x2="166.70" y2="887.60" stroke="#111" stroke-width="1.6" /><text x="139.10" y="895.20" font-family='"Liberation Sans", sans-serif' font-size="23.4" text-anchor="end">20%</text><line x1="157.70" y1="849.30" x2="166.70" y2="849.30" stroke="#111" stroke-width="1.6" /><text x="139.10" y="856.90" font-family='"Liberation Sans", sans-serif' font-size="23.4" text-anchor="end">30%</text><line x1="157.70" y1="811.00" x2="166.70" y2="811.00" stroke="#111" stroke-width="1.6" /><text x="139.10" y="818.60" font-family='"Liberation Sans", sans-serif' font-size="23.4" text-anchor="end">40%</text><line x1="157.70" y1="772.70" x2="166.70" y2="772.70" stroke="#111" stroke-width="1.6" /><text x="139.10" y="780.30" font-family='"Liberation Sans", sans-serif' font-size="23.4" text-anchor="end">50%</text><line x1="157.70" y1="734.40" x2="166.70" y2="734.40" stroke="#111" stroke-width="1.6" /><text x="139.10" y="742.00" font-family='"Liberation Sans", sans-serif' font-size="23.4" text-anchor="end">60%</text><line x1="157.70" y1="696.10" x2="166.70" y2="696.10" stroke="#111" stroke-width="1.6" /><text x="139.10" y="703.70" font-family='"Liberation Sans", sans-serif' font-size="23.4" text-anchor="end">70%</text><line x1="157.70" y1="657.80" x2="166.70" y2="657.80" stroke="#111" stroke-width="1.6" /><text x="139.10" y="665.40" font-family='"Liberation Sans", sans-serif' font-size="23.4" text-anchor="end">80%</text><line x1="157.70" y1="619.50" x2="166.70" y2="619.50" stroke="#111" stroke-width="1.6" /><text x="139.10" y="627.10" font-family='"Liberation Sans", sans-serif' font-size="23.4" text-anchor="end">90%</text><line x1="157.70" y1="581.20" x2="166.70" y2="581.20" stroke="#111" stroke-width="1.6" /><text x="139.10" y="588.80" font-family='"Liberation Sans", sans-serif' font-size="23.4" text-anchor="end">100%</text><line x1="166.70" y1="964.20" x2="166.70" y2="973.00" stroke="#111" stroke-width="1.6" /><line x1="199.95" y1="964.20" x2="199.95" y2="973.00" stroke="#111" stroke-width="1.6" /><line x1="233.21" y1="964.20" x2="233.21" y2="973.00" stroke="#111" stroke-width="1.6" /><line x1="266.46" y1="964.20" x2="266.46" y2="973.00" stroke="#111" stroke-width="1.6" /><line x1="299.72" y1="964.20" x2="299.72" y2="973.00" stroke="#111" stroke-width="1.6" /><line x1="332.97" y1="964.20" x2="332.97" y2="973.00" stroke="#111" stroke-width="1.6" /><line x1="366.23" y1="964.20" x2="366.23" y2="973.00" stroke="#111" stroke-width="1.6" /><line x1="399.48" y1="964.20" x2="399.48" y2="973.00" stroke="#111" stroke-width="1.6" /><line x1="432.74" y1="964.20" x2="432.74" y2="973.00" stroke="#111" stroke-width="1.6" /><line x1="465.99" y1="964.20" x2="465.99" y2="973.00" stroke="#111" stroke-width="1.6" /><line x1="499.25" y1="964.20" x2="499.25" y2="973.00" stroke="#111" stroke-width="1.6" /><line x1="532.50" y1="964.20" x2="532.50" y2="973.00" stroke="#111" stroke-width="1.6" /><line x1="565.75" y1="964.20" x2="565.75" y2="973.00" stroke="#111" stroke-width="1.6" /><line x1="599.01" y1="964.20" x2="599.01" y2="973.00" stroke="#111" stroke-width="1.6" /><line x1="632.26" y1="964.20" x2="632.26" y2="973.00" stroke="#111" stroke-width="1.6" /><line x1="665.52" y1="964.20" x2="665.52" y2="973.00" stroke="#111" stroke-width="1.6" /><line x1="698.77" y1="964.20" x2="698.77" y2="973.00" stroke="#111" stroke-width="1.6" /><line x1="732.03" y1="964.20" x2="732.03" y2="973.00" stroke="#111" stroke-width="1.6" /><line x1="765.28" y1="964.20" x2="765.28" y2="973.00" stroke="#111" stroke-width="1.6" /><line x1="798.54" y1="964.20" x2="798.54" y2="973.00" stroke="#111" stroke-width="1.6" /><line x1="831.79" y1="964.20" x2="831.79" y2="973.00" stroke="#111" stroke-width="1.6" /><line x1="865.05" y1="964.20" x2="865.05" y2="973.00" stroke="#111" stroke-width="1.6" /><line x1="898.30" y1="964.20" x2="898.30" y2="973.00" stroke="#111" stroke-width="1.6" /><text x="170.33" y="1008.80" font-family='"Liberation Sans", sans-serif' font-size="23.4" textLength="26.00" lengthAdjust="spacingAndGlyphs">21</text><text x="203.58" y="1008.80" font-family='"Liberation Sans", sans-serif' font-size="23.4" textLength="26.00" lengthAdjust="spacingAndGlyphs">23</text><text x="236.84" y="1008.80" font-family='"Liberation Sans", sans-serif' font-size="23.4" textLength="26.00" lengthAdjust="spacingAndGlyphs">25</text><text x="270.09" y="1008.80" font-family='"Liberation Sans", sans-serif' font-size="23.4" textLength="26.00" lengthAdjust="spacingAndGlyphs">27</text><text x="303.35" y="1008.80" font-family='"Liberation Sans", sans-serif' font-size="23.4" textLength="26.00" lengthAdjust="spacingAndGlyphs">29</text><text x="336.60" y="1008.80" font-family='"Liberation Sans", sans-serif' font-size="23.4" textLength="26.00" lengthAdjust="spacingAndGlyphs">31</text><text x="369.85" y="1008.80" font-family='"Liberation Sans", sans-serif' font-size="23.4" textLength="26.00" lengthAdjust="spacingAndGlyphs">33</text><text x="403.11" y="1008.80" font-family='"Liberation Sans", sans-serif' font-size="23.4" textLength="26.00" lengthAdjust="spacingAndGlyphs">35</text><text x="436.36" y="1008.80" font-family='"Liberation Sans", sans-serif' font-size="23.4" textLength="26.00" lengthAdjust="spacingAndGlyphs">37</text><text x="469.62" y="1008.80" font-family='"Liberation Sans", sans-serif' font-size="23.4" textLength="26.00" lengthAdjust="spacingAndGlyphs">39</text><text x="502.87" y="1008.80" font-family='"Liberation Sans", sans-serif' font-size="23.4" textLength="26.00" lengthAdjust="spacingAndGlyphs">41</text><text x="536.13" y="1008.80" font-family='"Liberation Sans", sans-serif' font-size="23.4" textLength="26.00" lengthAdjust="spacingAndGlyphs">43</text><text x="569.38" y="1008.80" font-family='"Liberation Sans", sans-serif' font-size="23.4" textLength="26.00" lengthAdjust="spacingAndGlyphs">45</text><text x="602.64" y="1008.80" font-family='"Liberation Sans", sans-serif' font-size="23.4" textLength="26.00" lengthAdjust="spacingAndGlyphs">47</text><text x="635.89" y="1008.80" font-family='"Liberation Sans", sans-serif' font-size="23.4" textLength="26.00" lengthAdjust="spacingAndGlyphs">49</text><text x="669.15" y="1008.80" font-family='"Liberation Sans", sans-serif' font-size="23.4" textLength="26.00" lengthAdjust="spacingAndGlyphs">51</text><text x="702.40" y="1008.80" font-family='"Liberation Sans", sans-serif' font-size="23.4" textLength="26.00" lengthAdjust="spacingAndGlyphs">53</text><text x="735.65" y="1008.80" font-family='"Liberation Sans", sans-serif' font-size="23.4" textLength="26.00" lengthAdjust="spacingAndGlyphs">55</text><text x="768.91" y="1008.80" font-family='"Liberation Sans", sans-serif' font-size="23.4" textLength="26.00" lengthAdjust="spacingAndGlyphs">61</text><text x="802.16" y="1008.80" font-family='"Liberation Sans", sans-serif' font-size="23.4" textLength="26.00" lengthAdjust="spacingAndGlyphs">63</text><text x="835.42" y="1008.80" font-family='"Liberation Sans", sans-serif' font-size="23.4" textLength="26.00" lengthAdjust="spacingAndGlyphs">65</text><text x="868.67" y="1008.80" font-family='"Liberation Sans", sans-serif' font-size="23.4" textLength="26.00" lengthAdjust="spacingAndGlyphs">67</text><polyline points="249.84,964.20 283.09,964.20 316.35,964.20 349.60,964.20 382.85,964.20 416.11,964.20 449.36,954.62 482.62,954.62 515.87,917.09 549.13,879.94 582.38,824.41 615.64,787.25 648.89,749.72 682.15,694.19 715.40,638.65 748.65,619.50 781.91,589.63 815.16,581.20" fill="none" stroke="#5b9bd5" stroke-width="4.2" stroke-linejoin="round" stroke-linecap="round"/><circle cx="249.84" cy="964.20" r="9.4" fill="#5b9bd5"/><circle cx="283.09" cy="964.20" r="9.4" fill="#5b9bd5"/><circle cx="316.35" cy="964.20" r="9.4" fill="#5b9bd5"/><circle cx="349.60" cy="964.20" r="9.4" fill="#5b9bd5"/><circle cx="382.85" cy="964.20" r="9.4" fill="#5b9bd5"/><circle cx="416.11" cy="964.20" r="9.4" fill="#5b9bd5"/><circle cx="449.36" cy="954.62" r="9.4" fill="#5b9bd5"/><circle cx="482.62" cy="954.62" r="9.4" fill="#5b9bd5"/><circle cx="515.87" cy="917.09" r="9.4" fill="#5b9bd5"/><circle cx="549.13" cy="879.94" r="9.4" fill="#5b9bd5"/><circle cx="582.38" cy="824.41" r="9.4" fill="#5b9bd5"/><circle cx="615.64" cy="787.25" r="9.4" fill="#5b9bd5"/><circle cx="648.89" cy="749.72" r="9.4" fill="#5b9bd5"/><circle cx="682.15" cy="694.19" r="9.4" fill="#5b9bd5"/><circle cx="715.40" cy="638.65" r="9.4" fill="#5b9bd5"/><circle cx="748.65" cy="619.50" r="9.4" fill="#5b9bd5"/><circle cx="781.91" cy="589.63" r="9.4" fill="#5b9bd5"/><circle cx="815.16" cy="581.20" r="9.4" fill="#5b9bd5"/><polyline points="249.84,964.20 283.09,964.20 316.35,964.20 349.60,964.20 382.85,954.62 416.11,916.33 449.36,897.18 482.62,839.73 515.87,791.85 549.13,763.12 582.38,724.83 615.64,705.67 648.89,667.38 682.15,629.08 715.40,629.08 748.65,619.50 781.91,600.35 815.16,581.20" fill="none" stroke="#ed7d31" stroke-width="4.2" stroke-linejoin="round" stroke-linecap="round"/><circle cx="249.84" cy="964.20" r="9.4" fill="#ed7d31"/><circle cx="283.09" cy="964.20" r="9.4" fill="#ed7d31"/><circle cx="316.35" cy="964.20" r="9.4" fill="#ed7d31"/><circle cx="349.60" cy="964.20" r="9.4" fill="#ed7d31"/><circle cx="382.85" cy="954.62" r="9.4" fill="#ed7d31"/><circle cx="416.11" cy="916.33" r="9.4" fill="#ed7d31"/><circle cx="449.36" cy="897.18" r="9.4" fill="#ed7d31"/><circle cx="482.62" cy="839.73" r="9.4" fill="#ed7d31"/><circle cx="515.87" cy="791.85" r="9.4" fill="#ed7d31"/><circle cx="549.13" cy="763.12" r="9.4" fill="#ed7d31"/><circle cx="582.38" cy="724.83" r="9.4" fill="#ed7d31"/><circle cx="615.64" cy="705.67" r="9.4" fill="#ed7d31"/><circle cx="648.89" cy="667.38" r="9.4" fill="#ed7d31"/><circle cx="682.15" cy="629.08" r="9.4" fill="#ed7d31"/><circle cx="715.40" cy="629.08" r="9.4" fill="#ed7d31"/><circle cx="748.65" cy="619.50" r="9.4" fill="#ed7d31"/><circle cx="781.91" cy="600.35" r="9.4" fill="#ed7d31"/><circle cx="815.16" cy="581.20" r="9.4" fill="#ed7d31"/><polyline points="249.84,964.20 283.09,964.20 316.35,964.20 349.60,954.62 382.85,925.90 416.11,887.60 449.36,791.85 482.62,743.98 515.87,638.65 549.13,609.92 582.38,609.92 615.64,600.35 648.89,600.35 682.15,590.78 715.40,590.78 748.65,590.78 781.91,581.20 815.16,581.20" fill="none" stroke="#b0b1b5" stroke-width="4.2" stroke-linejoin="round" stroke-linecap="round"/><circle cx="249.84" cy="964.20" r="9.4" fill="#b0b1b5"/><circle cx="283.09" cy="964.20" r="9.4" fill="#b0b1b5"/><circle cx="316.35" cy="964.20" r="9.4" fill="#b0b1b5"/><circle cx="349.60" cy="954.62" r="9.4" fill="#b0b1b5"/><circle cx="382.85" cy="925.90" r="9.4" fill="#b0b1b5"/><circle cx="416.11" cy="887.60" r="9.4" fill="#b0b1b5"/><circle cx="449.36" cy="791.85" r="9.4" fill="#b0b1b5"/><circle cx="482.62" cy="743.98" r="9.4" fill="#b0b1b5"/><circle cx="515.87" cy="638.65" r="9.4" fill="#b0b1b5"/><circle cx="549.13" cy="609.92" r="9.4" fill="#b0b1b5"/><circle cx="582.38" cy="609.92" r="9.4" fill="#b0b1b5"/><circle cx="615.64" cy="600.35" r="9.4" fill="#b0b1b5"/><circle cx="648.89" cy="600.35" r="9.4" fill="#b0b1b5"/><circle cx="682.15" cy="590.78" r="9.4" fill="#b0b1b5"/><circle cx="715.40" cy="590.78" r="9.4" fill="#b0b1b5"/><circle cx="748.65" cy="590.78" r="9.4" fill="#b0b1b5"/><circle cx="781.91" cy="581.20" r="9.4" fill="#b0b1b5"/><circle cx="815.16" cy="581.20" r="9.4" fill="#b0b1b5"/><polyline points="249.84,964.20 283.09,964.20 316.35,954.62 349.60,897.18 382.85,858.88 416.11,811.00 449.36,734.40 482.62,696.10 515.87,667.38 549.13,638.65 582.38,619.50 615.64,600.35 648.89,600.35 682.15,600.35 715.40,600.35 748.65,600.35 781.91,581.20 815.16,581.20" fill="none" stroke="#fdbf11" stroke-width="4.2" stroke-linejoin="round" stroke-linecap="round"/><circle cx="249.84" cy="964.20" r="9.4" fill="#fdbf11"/><circle cx="283.09" cy="964.20" r="9.4" fill="#fdbf11"/><circle cx="316.35" cy="954.62" r="9.4" fill="#fdbf11"/><circle cx="349.60" cy="897.18" r="9.4" fill="#fdbf11"/><circle cx="382.85" cy="858.88" r="9.4" fill="#fdbf11"/><circle cx="416.11" cy="811.00" r="9.4" fill="#fdbf11"/><circle cx="449.36" cy="734.40" r="9.4" fill="#fdbf11"/><circle cx="482.62" cy="696.10" r="9.4" fill="#fdbf11"/><circle cx="515.87" cy="667.38" r="9.4" fill="#fdbf11"/><circle cx="549.13" cy="638.65" r="9.4" fill="#fdbf11"/><circle cx="582.38" cy="619.50" r="9.4" fill="#fdbf11"/><circle cx="615.64" cy="600.35" r="9.4" fill="#fdbf11"/><circle cx="648.89" cy="600.35" r="9.4" fill="#fdbf11"/><circle cx="682.15" cy="600.35" r="9.4" fill="#fdbf11"/><circle cx="715.40" cy="600.35" r="9.4" fill="#fdbf11"/><circle cx="748.65" cy="600.35" r="9.4" fill="#fdbf11"/><circle cx="781.91" cy="581.20" r="9.4" fill="#fdbf11"/><circle cx="815.16" cy="581.20" r="9.4" fill="#fdbf11"/><rect x="640.20" y="815.90" width="232.20" height="126.00" fill="#fff" stroke="#111" stroke-width="1.5"/><line x1="678.50" y1="831.90" x2="727.20" y2="831.90" stroke="#5b9bd5" stroke-width="4.2" stroke-linecap="round"/><circle cx="702.8" cy="831.9" r="8.2" fill="#5b9bd5"/><text x="733.10" y="840.30" font-family='"Liberation Sans", sans-serif' font-size="24" textLength="41.50" lengthAdjust="spacingAndGlyphs">C24</text><line x1="678.50" y1="863.00" x2="727.20" y2="863.00" stroke="#ed7d31" stroke-width="4.2" stroke-linecap="round"/><circle cx="702.8" cy="863" r="8.2" fill="#ed7d31"/><text x="733.10" y="871.40" font-family='"Liberation Sans", sans-serif' font-size="24" textLength="34.00" lengthAdjust="spacingAndGlyphs">Ler</text><line x1="678.50" y1="894.80" x2="727.20" y2="894.80" stroke="#b0b1b5" stroke-width="4.2" stroke-linecap="round"/><circle cx="702.8" cy="894.8" r="8.2" fill="#b0b1b5"/><text x="733.10" y="903.20" font-family='"Liberation Sans", sans-serif' font-size="24" textLength="101.60" lengthAdjust="spacingAndGlyphs">C24 x Ler</text><line x1="678.50" y1="925.80" x2="727.20" y2="925.80" stroke="#fdbf11" stroke-width="4.2" stroke-linecap="round"/><circle cx="702.8" cy="925.8" r="8.2" fill="#fdbf11"/><text x="733.10" y="934.20" font-family='"Liberation Sans", sans-serif' font-size="24" textLength="101.60" lengthAdjust="spacingAndGlyphs">Ler x C24</text><text x="532.00" y="1044.70" font-family='"Liberation Sans", sans-serif' font-size="24" text-anchor="middle" font-weight="bold" textLength="238.00" lengthAdjust="spacingAndGlyphs">Hours after sowing</text><g transform="translate(76,788) rotate(-90)"><text x="0.00" y="0.00" font-family='"Liberation Sans", sans-serif' font-size="24" text-anchor="middle" font-weight="bold" textLength="283.00" lengthAdjust="spacingAndGlyphs">% of germinated seeds</text></g><text x="24.00" y="587.00" font-family='"Liberation Sans", sans-serif' font-size="30" textLength="17.50" lengthAdjust="spacingAndGlyphs">B</text>
<rect x="1108.40" y="296.10" width="71.60" height="213.60" fill="#4671bb" stroke="#737277" stroke-width="1.8"/><rect x="1234.50" y="223.70" width="71.30" height="286.00" fill="#ed7d31" stroke="#737277" stroke-width="1.8"/><rect x="1360.30" y="122.20" width="70.90" height="387.50" fill="#b0b1b5" stroke="#737277" stroke-width="1.8"/><rect x="1486.00" y="190.00" width="70.90" height="319.70" fill="#fdc010" stroke="#737277" stroke-width="1.8"/><line x1="1108.40" y1="339.40" x2="1180.00" y2="339.40" stroke="#737277" stroke-width="1.8" /><line x1="1108.40" y1="461.50" x2="1180.00" y2="461.50" stroke="#737277" stroke-width="1.8" /><line x1="1234.50" y1="284.10" x2="1305.80" y2="284.10" stroke="#737277" stroke-width="1.8" /><line x1="1234.50" y1="453.30" x2="1305.80" y2="453.30" stroke="#737277" stroke-width="1.8" /><line x1="1360.30" y1="193.10" x2="1431.20" y2="193.10" stroke="#737277" stroke-width="1.8" /><line x1="1360.30" y1="419.30" x2="1431.20" y2="419.30" stroke="#737277" stroke-width="1.8" /><line x1="1486.00" y1="254.90" x2="1556.90" y2="254.90" stroke="#737277" stroke-width="1.8" /><line x1="1486.00" y1="451.00" x2="1556.90" y2="451.00" stroke="#737277" stroke-width="1.8" /><line x1="1144.10" y1="277.50" x2="1144.10" y2="315.20" stroke="#737277" stroke-width="2" /><line x1="1137.60" y1="277.50" x2="1150.60" y2="277.50" stroke="#737277" stroke-width="2" /><line x1="1137.60" y1="315.20" x2="1150.60" y2="315.20" stroke="#737277" stroke-width="2" /><line x1="1269.80" y1="167.90" x2="1269.80" y2="279.50" stroke="#737277" stroke-width="2" /><line x1="1263.30" y1="167.90" x2="1276.30" y2="167.90" stroke="#737277" stroke-width="2" /><line x1="1263.30" y1="279.50" x2="1276.30" y2="279.50" stroke="#737277" stroke-width="2" /><line x1="1395.50" y1="116.10" x2="1395.50" y2="129.20" stroke="#737277" stroke-width="2" /><line x1="1389.00" y1="116.10" x2="1402.00" y2="116.10" stroke="#737277" stroke-width="2" /><line x1="1389.00" y1="129.20" x2="1402.00" y2="129.20" stroke="#737277" stroke-width="2" /><line x1="1521.20" y1="148.30" x2="1521.20" y2="231.80" stroke="#737277" stroke-width="2" /><line x1="1514.70" y1="148.30" x2="1527.70" y2="148.30" stroke="#737277" stroke-width="2" /><line x1="1514.70" y1="231.80" x2="1527.70" y2="231.80" stroke="#737277" stroke-width="2" /><line x1="1081.40" y1="53.80" x2="1081.40" y2="509.70" stroke="#111" stroke-width="1.8" /><line x1="1073.90" y1="509.70" x2="1584.30" y2="509.70" stroke="#111" stroke-width="1.8" /><text x="1061.40" y="517.90" font-family='"Liberation Sans", sans-serif' font-size="23.3" text-anchor="end">0</text><line x1="1073.90" y1="433.85" x2="1081.40" y2="433.85" stroke="#111" stroke-width="1.6" /><text x="1061.40" y="442.05" font-family='"Liberation Sans", sans-serif' font-size="23.3" text-anchor="end">1</text><line x1="1073.90" y1="358.00" x2="1081.40" y2="358.00" stroke="#111" stroke-width="1.6" /><text x="1061.40" y="366.20" font-family='"Liberation Sans", sans-serif' font-size="23.3" text-anchor="end">2</text><line x1="1073.90" y1="282.15" x2="1081.40" y2="282.15" stroke="#111" stroke-width="1.6" /><text x="1061.40" y="290.35" font-family='"Liberation Sans", sans-serif' font-size="23.3" text-anchor="end">3</text><line x1="1073.90" y1="206.30" x2="1081.40" y2="206.30" stroke="#111" stroke-width="1.6" /><text x="1061.40" y="214.50" font-family='"Liberation Sans", sans-serif' font-size="23.3" text-anchor="end">4</text><line x1="1073.90" y1="130.45" x2="1081.40" y2="130.45" stroke="#111" stroke-width="1.6" /><text x="1061.40" y="138.65" font-family='"Liberation Sans", sans-serif' font-size="23.3" text-anchor="end">5</text><line x1="1073.90" y1="54.60" x2="1081.40" y2="54.60" stroke="#111" stroke-width="1.6" /><text x="1061.40" y="62.80" font-family='"Liberation Sans", sans-serif' font-size="23.3" text-anchor="end">6</text><line x1="1144.16" y1="509.70" x2="1144.16" y2="517.20" stroke="#111" stroke-width="1.6" /><line x1="1269.69" y1="509.70" x2="1269.69" y2="517.20" stroke="#111" stroke-width="1.6" /><line x1="1395.21" y1="509.70" x2="1395.21" y2="517.20" stroke="#111" stroke-width="1.6" /><line x1="1520.74" y1="509.70" x2="1520.74" y2="517.20" stroke="#111" stroke-width="1.6" /><line x1="1583.50" y1="509.70" x2="1583.50" y2="517.20" stroke="#111" stroke-width="1.6" /><line x1="1318.70" y1="260.90" x2="1586.20" y2="260.90" stroke="#ee1c25" stroke-width="2.4" stroke-dasharray="11.3 8.4"/><text x="1100.00" y="87.00" font-family='"Liberation Sans", sans-serif' font-size="23.3" textLength="78.70" lengthAdjust="spacingAndGlyphs">19 DAS</text><text x="1100.00" y="119.10" font-family='"Liberation Sans", sans-serif' font-size="23.3" textLength="261.40" lengthAdjust="spacingAndGlyphs">X% - heterosis from MPV</text><text x="1392.80" y="82.70" font-family='"Liberation Sans", sans-serif' font-size="23.3" text-anchor="middle">55%</text><text x="1395.70" y="109.00" font-family='"Liberation Sans", sans-serif' font-size="28" text-anchor="middle">***</text><text x="1518.50" y="123.60" font-family='"Liberation Sans", sans-serif' font-size="23.3" text-anchor="middle">28%</text><text x="1569.50" y="221.70" font-family='"Liberation Sans", sans-serif' font-size="23.3">Leaf &gt;6</text><text x="1568.50" y="355.90" font-family='"Liberation Sans", sans-serif' font-size="23.3">Leaf 3-6</text><text x="1568.50" y="475.60" font-family='"Liberation Sans", sans-serif' font-size="23.3">Leaf 1-2</text><rect x="1110.90" y="844.70" width="70.40" height="170.80" fill="#4671bb" stroke="#737277" stroke-width="1.8"/><rect x="1235.60" y="919.10" width="70.40" height="96.40" fill="#ed7d31" stroke="#737277" stroke-width="1.8"/><rect x="1360.80" y="653.70" width="70.40" height="361.80" fill="#b0b1b5" stroke="#737277" stroke-width="1.8"/><rect x="1486.00" y="636.00" width="69.90" height="379.50" fill="#fdc010" stroke="#737277" stroke-width="1.8"/><line x1="1110.90" y1="864.80" x2="1181.30" y2="864.80" stroke="#737277" stroke-width="1.8" /><line x1="1110.90" y1="960.30" x2="1181.30" y2="960.30" stroke="#737277" stroke-width="1.8" /><line x1="1360.80" y1="708.50" x2="1431.20" y2="708.50" stroke="#737277" stroke-width="1.8" /><line x1="1360.80" y1="906.00" x2="1431.20" y2="906.00" stroke="#737277" stroke-width="1.8" /><line x1="1486.00" y1="694.90" x2="1555.90" y2="694.90" stroke="#737277" stroke-width="1.8" /><line x1="1486.00" y1="918.60" x2="1555.90" y2="918.60" stroke="#737277" stroke-width="1.8" /><line x1="1146.10" y1="834.60" x2="1146.10" y2="854.80" stroke="#737277" stroke-width="2" /><line x1="1139.60" y1="834.60" x2="1152.60" y2="834.60" stroke="#737277" stroke-width="2" /><line x1="1139.60" y1="854.80" x2="1152.60" y2="854.80" stroke="#737277" stroke-width="2" /><line x1="1269.30" y1="899.50" x2="1269.30" y2="938.70" stroke="#737277" stroke-width="2" /><line x1="1262.80" y1="899.50" x2="1275.80" y2="899.50" stroke="#737277" stroke-width="2" /><line x1="1262.80" y1="938.70" x2="1275.80" y2="938.70" stroke="#737277" stroke-width="2" /><line x1="1395.50" y1="632.00" x2="1395.50" y2="675.30" stroke="#737277" stroke-width="2" /><line x1="1389.00" y1="632.00" x2="1402.00" y2="632.00" stroke="#737277" stroke-width="2" /><line x1="1389.00" y1="675.30" x2="1402.00" y2="675.30" stroke="#737277" stroke-width="2" /><line x1="1521.20" y1="618.00" x2="1521.20" y2="653.20" stroke="#737277" stroke-width="2" /><line x1="1514.70" y1="618.00" x2="1527.70" y2="618.00" stroke="#737277" stroke-width="2" /><line x1="1514.70" y1="653.20" x2="1527.70" y2="653.20" stroke="#737277" stroke-width="2" /><line x1="1083.40" y1="558.70" x2="1083.40" y2="1015.50" stroke="#111" stroke-width="1.8" /><line x1="1075.90" y1="1015.50" x2="1583.90" y2="1015.50" stroke="#111" stroke-width="1.8" /><text x="1062.30" y="1023.70" font-family='"Liberation Sans", sans-serif' font-size="23.3" text-anchor="end">0</text><line x1="1075.90" y1="950.36" x2="1083.40" y2="950.36" stroke="#111" stroke-width="1.6" /><text x="1062.30" y="958.56" font-family='"Liberation Sans", sans-serif' font-size="23.3" text-anchor="end">10</text><line x1="1075.90" y1="885.21" x2="1083.40" y2="885.21" stroke="#111" stroke-width="1.6" /><text x="1062.30" y="893.41" font-family='"Liberation Sans", sans-serif' font-size="23.3" text-anchor="end">20</text><line x1="1075.90" y1="820.07" x2="1083.40" y2="820.07" stroke="#111" stroke-width="1.6" /><text x="1062.30" y="828.27" font-family='"Liberation Sans", sans-serif' font-size="23.3" text-anchor="end">30</text><line x1="1075.90" y1="754.93" x2="1083.40" y2="754.93" stroke="#111" stroke-width="1.6" /><text x="1062.30" y="763.13" font-family='"Liberation Sans", sans-serif' font-size="23.3" text-anchor="end">40</text><line x1="1075.90" y1="689.79" x2="1083.40" y2="689.79" stroke="#111" stroke-width="1.6" /><text x="1062.30" y="697.99" font-family='"Liberation Sans", sans-serif' font-size="23.3" text-anchor="end">50</text><line x1="1075.90" y1="624.64" x2="1083.40" y2="624.64" stroke="#111" stroke-width="1.6" /><text x="1062.30" y="632.84" font-family='"Liberation Sans", sans-serif' font-size="23.3" text-anchor="end">60</text><line x1="1075.90" y1="559.50" x2="1083.40" y2="559.50" stroke="#111" stroke-width="1.6" /><text x="1062.30" y="567.70" font-family='"Liberation Sans", sans-serif' font-size="23.3" text-anchor="end">70</text><line x1="1145.86" y1="1015.50" x2="1145.86" y2="1023.00" stroke="#111" stroke-width="1.6" /><line x1="1270.79" y1="1015.50" x2="1270.79" y2="1023.00" stroke="#111" stroke-width="1.6" /><line x1="1395.71" y1="1015.50" x2="1395.71" y2="1023.00" stroke="#111" stroke-width="1.6" /><line x1="1520.64" y1="1015.50" x2="1520.64" y2="1023.00" stroke="#111" stroke-width="1.6" /><line x1="1583.10" y1="1015.50" x2="1583.10" y2="1023.00" stroke="#111" stroke-width="1.6" /><line x1="1303.00" y1="859.30" x2="1571.00" y2="859.30" stroke="#ee1c25" stroke-width="2.4" stroke-dasharray="11.3 8.4"/><text x="1100.00" y="589.00" font-family='"Liberation Sans", sans-serif' font-size="23.3" textLength="78.70" lengthAdjust="spacingAndGlyphs">30 DAS</text><text x="1395.50" y="596.00" font-family='"Liberation Sans", sans-serif' font-size="23.3" text-anchor="middle">199%</text><text x="1395.70" y="628.50" font-family='"Liberation Sans", sans-serif' font-size="28" text-anchor="middle">***</text><text x="1521.00" y="586.30" font-family='"Liberation Sans", sans-serif' font-size="23.3" text-anchor="middle">217%</text><text x="1521.30" y="618.30" font-family='"Liberation Sans", sans-serif' font-size="28" text-anchor="middle">***</text><text x="1565.00" y="658.70" font-family='"Liberation Sans", sans-serif' font-size="23.3">Leaf &gt;10</text><text x="1568.50" y="791.50" font-family='"Liberation Sans", sans-serif' font-size="23.3">Leaf 9-13</text><text x="1568.50" y="961.90" font-family='"Liberation Sans", sans-serif' font-size="23.3">Leaf 1-8</text><text x="1146.00" y="1051.50" font-family='"Liberation Sans", sans-serif' font-size="23.3" text-anchor="middle">C24</text><text x="1269.50" y="1051.50" font-family='"Liberation Sans", sans-serif' font-size="23.3" text-anchor="middle">Ler</text><text x="1395.50" y="1051.50" font-family='"Liberation Sans", sans-serif' font-size="23.3" text-anchor="middle">C24 x Ler</text><text x="1521.00" y="1051.50" font-family='"Liberation Sans", sans-serif' font-size="23.3" text-anchor="middle">Ler x C24</text><g transform="translate(984.8,498.3) rotate(-90)"><text x="0.00" y="0.00" font-family='"Liberation Sans", sans-serif' font-size="23.3" text-anchor="middle" font-weight="bold" textLength="220.50" lengthAdjust="spacingAndGlyphs">Total leaf area (cm²)</text></g>
<defs><g id="wm"><text x="5.00" y="-18.00" font-family='"Liberation Sans", sans-serif' font-size="86" font-weight="bold" textLength="318.00" lengthAdjust="spacingAndGlyphs" fill="none" stroke="#3cb43c" stroke-opacity="0.3" stroke-width="1.4">EcoTech</text><circle cx="323" cy="-73" r="8.5" fill="none" stroke="#3cb43c" stroke-opacity="0.3" stroke-width="1.3"/><text x="323.00" y="-69.00" font-family='"Liberation Sans", sans-serif' font-size="11" text-anchor="middle" fill="none" stroke="#3cb43c" stroke-opacity="0.3" stroke-width="1">R</text><line x1="0.00" y1="0.00" x2="330.00" y2="0.00" stroke="#28966a" stroke-width="4.5" stroke-opacity="0.33"/><g transform="skewX(-5)"><text x="3.00" y="51.00" font-family='"Liberation Sans", "Noto Sans CJK SC", sans-serif' font-size="37" font-weight="500" fill="#463c3c" fill-opacity="0.3" letter-spacing="11.5">易科泰生态技术</text></g></g></defs><use href="#wm" transform="translate(594.4,159.4) rotate(20)"/><use href="#wm" transform="translate(1168.0,367.7) rotate(20)"/><use href="#wm" transform="translate(454.4,545.9) rotate(20)"/><use href="#wm" transform="translate(1028.0,754.2) rotate(20)"/><use href="#wm" transform="translate(1308.0,-18.8) rotate(20)"/><use href="#wm" transform="translate(-119.2,337.6) rotate(20)"/><use href="#wm" transform="translate(314.4,932.4) rotate(20)"/><use href="#wm" transform="translate(-259.2,724.1) rotate(20)"/><use href="#wm" transform="translate(1601.6,962.5) rotate(20)"/><use href="#wm" transform="translate(888.0,1140.7) rotate(20)"/>
</svg></body></html>
